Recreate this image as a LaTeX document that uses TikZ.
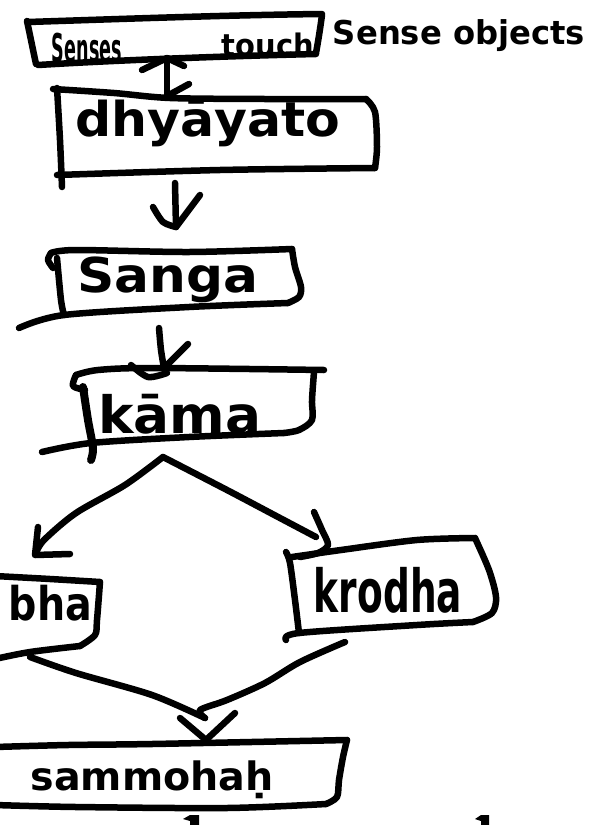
\documentclass[tikz,border=0pt]{standalone}
\usepackage{fontspec}
\setmainfont{DejaVu Sans}
\usepackage{graphicx}
% marker-style lettering squeezed into a given width and height
\newcommand\handtext[3]{\resizebox*{#1pt}{#2pt}{\bfseries #3}}
\tikzset{
  ink/.style={line width=6.5pt, line cap=round, line join=round, draw=black},
  heavy/.style={ink, line width=8pt},
  lbl/.style={inner sep=0pt, outer sep=0pt},
}
\begin{document}
\begin{tikzpicture}[x=1pt,y=-1pt]
\useasboundingbox (0,0) rectangle (594,825);
\clip (0,0) rectangle (594,825);
\fill[white] (0,0) rectangle (594,825);

% ---------- labels ----------
\node[lbl] (senseA) at (87,48) {\handtext{70}{30}{Senses}};
\node[lbl] (senseB) at (268,45) {\handtext{92}{24}{touch}};
\node[lbl] (objects) at (459,36) {\handtext{252}{32}{Sense objects}};
\node[lbl] (dhy) at (208,123) {\handtext{265}{47}{dhyāyato}};
\node[lbl] (sanga) at (168,280) {\handtext{181}{46}{Sanga}};
\node[lbl] (kama) at (180,414) {\handtext{163}{40}{kāma}};
\begin{scope}
  % the word runs past the left edge of the sheet
  \clip (9.5,560) rectangle (120,640);
  \node[lbl, anchor=south east] (lobha) at (92,621) {\handtext{124}{36}{lobha}};
\end{scope}
\node[lbl] (krodha) at (388,590) {\handtext{148}{46}{krodha}};
\node[lbl] (samm) at (152,780) {\handtext{243}{38}{sammohaḥ}};

% ---------- hand-drawn frames ----------
% senses touch
\draw[ink] (28,22) .. controls (120,19) and (230,15) .. (322,14);
\draw[ink] (322,15) .. controls (320,30) and (318,42) .. (316,53);
\draw[ink] (316,54) .. controls (230,56) and (120,60) .. (38,65);
\draw[ink] (27,21) .. controls (30,35) and (33,50) .. (36,64);
% dhyayato
\draw[ink] plot[smooth] coordinates {(53,89) (114,93) (170,98) (265,99) (366,99)};
\draw[ink] plot[smooth] coordinates {(366,99) (375,112) (377,147) (375,168)};
\draw[ink] plot[smooth] coordinates {(375,168) (220,170) (57,175)};
\draw[ink] plot[smooth] coordinates {(57,88) (60,140) (62,187)};
% sanga
\draw[ink] plot[smooth] coordinates {(51,253) (76,250) (189,252) (292,249)};
\draw[ink] plot[smooth] coordinates {(51,253) (48,260) (53,268)};
\draw[ink] plot[smooth] coordinates {(292,249) (295,267) (301,287) (299,297) (288,303)};
\draw[ink] plot[smooth] coordinates {(288,303) (189,307) (64,315) (19,328)};
\draw[ink] plot[smooth] coordinates {(57,258) (61,300) (64,315)};
% kama
\draw[ink] plot[smooth] coordinates {(76,375) (98,370) (152,368) (324,370)};
\draw[ink] plot[smooth] coordinates {(76,375) (73,386) (85,390)};
\draw[ink] plot[smooth] coordinates {(314,372) (312,400) (312,420) (299,430) (284,433)};
\draw[ink] plot[smooth] coordinates {(284,433) (189,437) (91,443) (42,452)};
\draw[heavy] plot[smooth] coordinates {(83,387) (88,420) (93,448) (91,460)};
% lobha
\draw[ink] plot[smooth] coordinates {(-5,576) (50,579) (100,582)};
\draw[ink] plot[smooth] coordinates {(100,582) (97,620) (95,635) (80,646)};
\draw[ink] plot[smooth] coordinates {(80,646) (30,652) (-5,659)};
% krodha
\draw[ink] plot[smooth] coordinates {(292,557) (341,550) (417,540) (475,538)};
\draw[ink] plot[smooth] coordinates {(475,538) (489,570) (496,597) (492,613) (473,622)};
\draw[ink] plot[smooth] coordinates {(473,622) (417,625) (299,633) (286,640)};
\draw[ink] plot[smooth] coordinates {(286,552) (290,563) (295,600) (299,633)};
% sammohah
\draw[ink] plot[smooth] coordinates {(-5,747) (68,745) (152,744) (347,740)};
\draw[ink] plot[smooth] coordinates {(347,740) (343,757) (339,780) (337,797) (326,804)};
\draw[ink] plot[smooth] coordinates {(326,804) (227,808) (76,807) (-5,805)};

% ---------- connectors ----------
% senses <-> dhyayato
\coordinate (stA) at (167,58);
\coordinate (stB) at (167,96);
\draw[ink] (stA) -- (stB);
\draw[ink] ([shift={(-25,12)}]stA) -- (stA) -- ([shift={(17,8)}]stA);
\draw[ink] ([shift={(22,-12)}]stB) -- (stB);
% dhyayato -> sanga
\coordinate (dsA) at (175,183);
\coordinate (dsB) at (176,227);
\draw[ink] (dsA) -- (dsB);
\draw[ink] plot[smooth] coordinates {(153,207) (163,222) (dsB)};
\draw[ink] (200,195) -- (dsB);
% sanga -> kama
\coordinate (skA) at (159,328);
\coordinate (skB) at (164,368);
\draw[ink] plot[smooth] coordinates {(skA) (161,350) (skB)};
\draw[ink] (188,344) -- (skB);
\draw[ink] plot[smooth] coordinates {(131,365) (148,377) (167,373)};
% kama -> lobha / krodha
\coordinate (fork) at (163,457);
\coordinate (lobTip) at (36,553);
\coordinate (kroTip) at (316,537);
\draw[ink] plot[smooth] coordinates {(fork) (125,485) (76,513) (44,540) (lobTip)};
\draw[ink] (38,527) -- (35,555) -- (70,554);
\draw[ink] plot[smooth] coordinates {(fork) (227,490) (280,518) (kroTip)};
\draw[ink] plot[smooth] coordinates {(314,512) (322,530) (328,545) (318,553) (300,557)};
% lobha / krodha -> sammohah
\coordinate (lobOut) at (30,657);
\coordinate (kroOut) at (345,642);
\coordinate (samTip) at (206,740);
\draw[ink] plot[smooth] coordinates {(lobOut) (76,673) (152,695) (205,718)};
\draw[ink] plot[smooth] coordinates {(kroOut) (300,662) (265,683) (227,700) (200,710) (205,718)};
\draw[ink] (180,718) -- (samTip) -- (235,713);

% ---------- serif stems at the lower edge ----------
\fill[black] (183,819) -- (190,815) -- (199,815) -- (199,826) -- (190,826) -- (190,821) -- cycle;
\fill[black] (475,819) -- (481,815) -- (489,815) -- (489,826) -- (481,826) -- (481,821) -- cycle;
\end{tikzpicture}
\end{document}
